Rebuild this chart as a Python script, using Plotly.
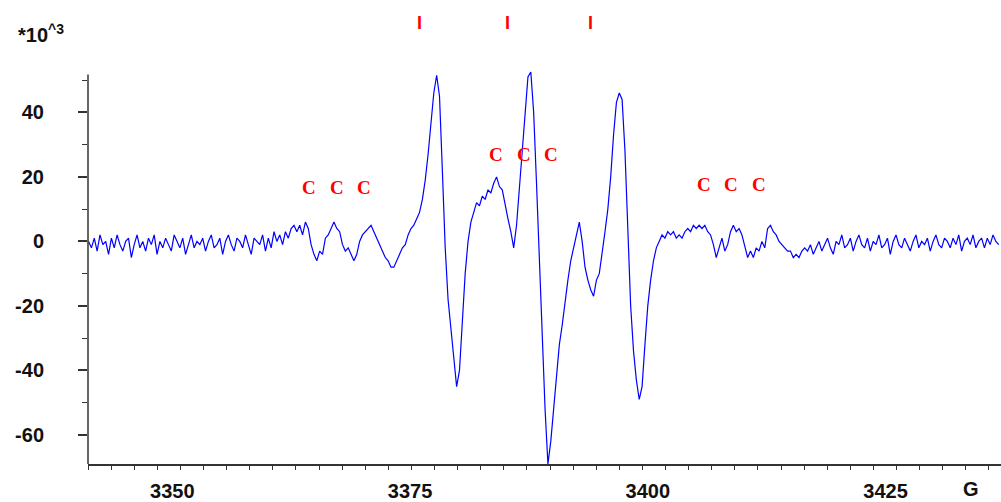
import numpy as np
import plotly.graph_objects as go

# EPR first-derivative spectrum (signal in units of 10^3)
FIELD_START = 3341.2   # G
FIELD_STEP = 0.3       # G per sample

signal = [
    0, -2, 1, -3, 2, -1, 0, -4, 1, -2,
    2, -1, -3, 0, 1, -5, -1, 2, -2, 0,
    -3, 1, -1, 2, -4, 0, -2, 1, -1, -3,
    2, 0, -2, 1, -4, -1, 2, -2, 0, -1,
    1, -3, 0, 2, -2, -1, 1, -4, 0, 2,
    -1, -3, 1, 0, -2, 2, -1, -4, 1, 0,
    -1, 2, -3, 1, -2, 3, 0, 2, -1, 3,
    1, 4, 5, 3, 5, 2, 6, 4, -1, -4,
    -6, -3, -4, 1, 2, 4, 6, 4, 3, -1,
    -3, -2, -4, -6, -4, 0, 2, 3, 4, 5,
    3, 1, -1, -3, -5, -6, -8, -8, -6, -4,
    -2, -1, 2, 4, 5, 7, 9, 13, 19, 27,
    37, 46, 51.5, 45, 22, -2, -18, -28, -36, -45,
    -40, -25, -10, 0, 6, 9, 12, 11, 14, 13,
    16, 15, 18, 20, 17, 16, 11, 7, 3, -2,
    5, 17, 27, 40, 51, 52.5, 40, 18, -5, -30,
    -52, -69, -62, -52, -42, -32, -26, -18, -12, -6,
    -2, 2, 6, 0, -8, -12, -15, -17, -12, -10,
    -4, 3, 10, 20, 33, 43, 46, 44, 28, 5,
    -20, -34, -43, -49, -45, -32, -20, -12, -6, -2,
    0, 2, 1, 3, 2, 3, 1, 2, 1, 3,
    4, 3, 5, 4, 5, 4, 5, 3, 2, -1,
    -5, -2, 1, -3, -1, 3, 5, 3, 4, 2,
    -2, -5, -3, -5, -2, -3, 0, -2, 4, 5,
    3, 2, 0, -1, -2, -3, -3, -5, -4, -5,
    -3, -2, -3, -1, -4, -2, 0, -3, -1, 1,
    -2, -4, 0, -1, 2, -2, -1, 1, -3, 0,
    2, -1, -2, 1, -3, 0, -1, 2, -2, -1,
    1, -4, 0, 2, -1, -2, 1, -1, -3, 0,
    2, -2, 0, -1, 1, -3, 0, 2, -1, -2,
    1, 0, -2, 1, -1, 2, -3, 0, 1, -1,
    2, -2, 0, 1, -2, 1, -1, 2, 0, -1,
]
field = FIELD_START + FIELD_STEP * np.arange(len(signal))

# Axis ticks
x_tick_vals = [3350, 3375, 3400, 3425]
x_tick_text = ["3350", "3375", "3400", "3425"]
y_tick_vals = [-60, -40, -20, 0, 20, 40]
y_tick_text = ["-60", "-40", "-20", "0", "20", "40"]

# Line markers (I) and satellite markers (C)
i_fields = [3376.0, 3385.3, 3394.0]
c_fields = [3364.4, 3367.3, 3370.2, 3384.0, 3387.0, 3389.8, 3405.9, 3408.8, 3411.7]
c_levels = [16.6, 16.6, 16.6, 26.8, 26.8, 26.8, 17.5, 17.5, 17.5]

X_RANGE = [3341.14, 3437.14]
Y_RANGE = [-69.0, 56.23]
Y_AXIS_TOP = 51.7

SANS = "Liberation Sans, Arial, sans-serif"
SERIF = "Liberation Serif, Times New Roman, serif"
AXIS_COLOR = "#333333"

fig = go.Figure()
fig.add_trace(go.Scatter(
    x=field, y=signal, mode="lines",
    line=dict(color="#0000FF", width=1.2),
    hoverinfo="skip",
))

annotations = []
for fx in i_fields:
    annotations.append(dict(
        x=fx, y=1.092, xref="x", yref="paper", xanchor="center", yanchor="middle",
        text="I", showarrow=False,
        font=dict(family=SANS, size=18, color="#FF0000", weight="bold"),
    ))
for fx, lv in zip(c_fields, c_levels):
    annotations.append(dict(
        x=fx, y=lv, xref="x", yref="y", xanchor="center", yanchor="middle",
        text="C", showarrow=False,
        font=dict(family=SERIF, size=19, color="#FF0000", weight="bold"),
    ))
annotations.append(dict(
    x=-0.079, y=1.066, xref="paper", yref="paper", xanchor="left", yanchor="middle",
    text="*10<sup>^3</sup>", showarrow=False,
    font=dict(family=SANS, size=20, color="#111111", weight="bold"),
))
annotations.append(dict(
    x=0.967, y=-0.0614, xref="paper", yref="paper", xanchor="center", yanchor="middle",
    text="G", showarrow=False,
    font=dict(family=SANS, size=20, color="#111111", weight="bold"),
))

fig.update_layout(
    width=1001, height=502,
    margin=dict(l=88, r=0, t=60, b=35),
    paper_bgcolor="white", plot_bgcolor="white",
    showlegend=False,
    annotations=annotations,
    shapes=[dict(
        type="line", xref="paper", yref="y", x0=0, x1=0, y0=Y_RANGE[0], y1=Y_AXIS_TOP,
        line=dict(color=AXIS_COLOR, width=1.5),
    )],
    xaxis=dict(
        range=X_RANGE, showgrid=False, zeroline=False,
        showline=True, linecolor=AXIS_COLOR, linewidth=1.5,
        tickmode="array", tickvals=x_tick_vals, ticktext=x_tick_text,
        ticks="", ticklabelstandoff=8,
        tickfont=dict(family=SANS, size=20, color="#111111", weight="bold"),
        minor=dict(tickmode="linear", tick0=X_RANGE[0], dtick=2.429,
                   ticks="outside", ticklen=4, tickcolor=AXIS_COLOR, tickwidth=1.2),
    ),
    yaxis=dict(
        range=Y_RANGE, showgrid=False, zeroline=False, showline=False,
        tickmode="array", tickvals=y_tick_vals, ticktext=y_tick_text,
        ticks="outside", ticklen=9, tickcolor=AXIS_COLOR, tickwidth=1.5,
        ticklabelstandoff=30,
        tickfont=dict(family=SANS, size=20, color="#111111", weight="bold"),
        minor=dict(tickmode="linear", tick0=0, dtick=10,
                   ticks="outside", ticklen=5, tickcolor=AXIS_COLOR, tickwidth=1.2),
    ),
)

fig.write_html("out.html")
